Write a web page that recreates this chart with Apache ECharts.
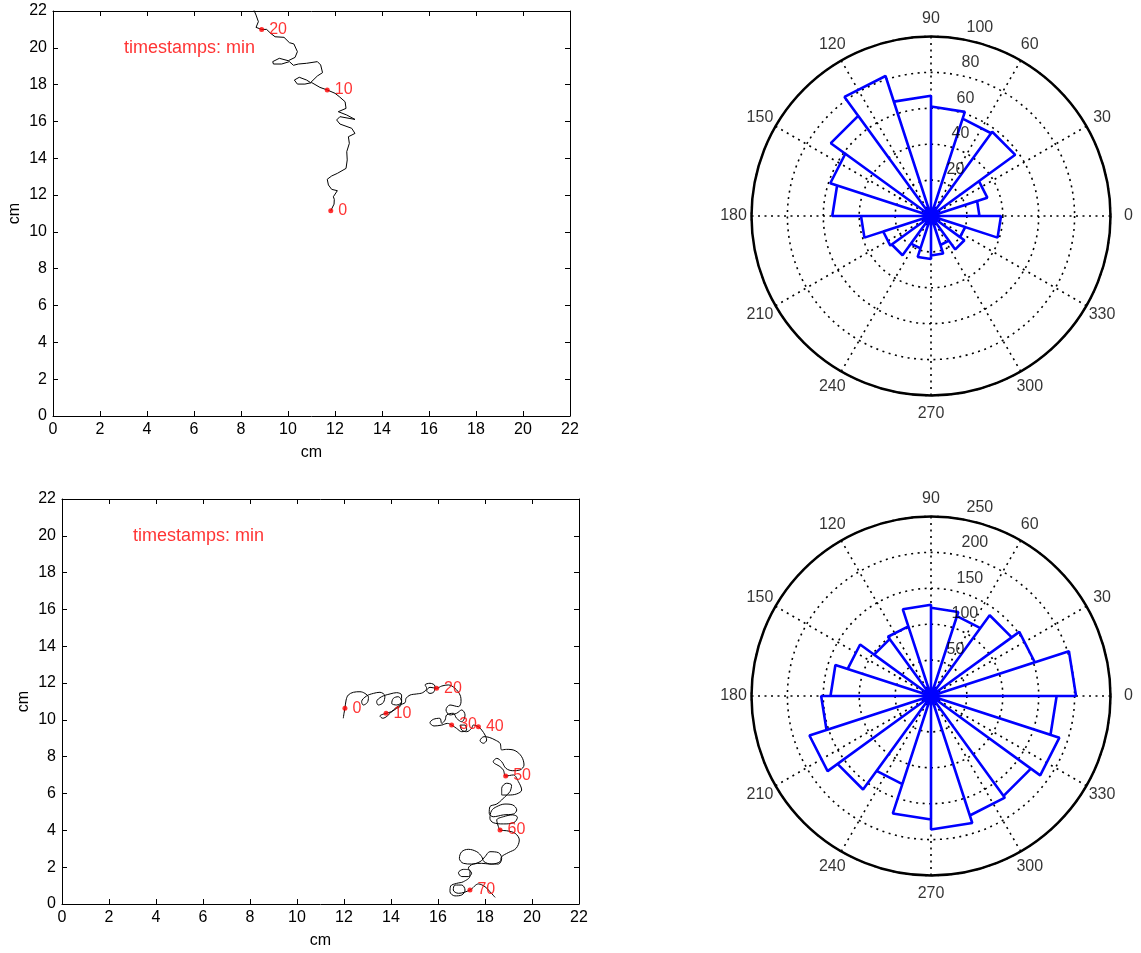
<!DOCTYPE html>
<html>
<head>
<meta charset="utf-8">
<script src="https://cdn.jsdelivr.net/npm/echarts@6/dist/echarts.min.js"></script>
<style>
  html, body { margin: 0; padding: 0; background: #fff; }
  #chart { width: 1141px; height: 953px; }
</style>
</head>
<body>
<div id="chart"></div>
<script>
// ---- data ----
const axisTicksCm = [0, 2, 4, 6, 8, 10, 12, 14, 16, 18, 20, 22];
const angleTicks = [0, 30, 60, 90, 120, 150, 180, 210, 240, 270, 300, 330];
const binWidthDeg = 18;

// trajectory 1 (cm)
const track1 = [
  [11.82,11.15],[11.96,11.51],[11.97,11.77],[11.93,11.91],[12.10,12.24],[11.86,12.31],[11.72,12.55],
  [11.67,12.86],[11.86,13.04],[12.10,13.18],[12.47,13.45],[12.52,13.91],[12.50,14.36],[12.61,14.81],
  [12.57,15.17],[12.85,15.35],[12.71,15.63],[12.21,15.86],[12.07,16.08],[12.21,16.26],[12.85,16.11],
  [12.50,16.35],[12.14,16.53],[12.47,16.71],[12.43,17.07],[12.18,17.35],[12.00,17.53],[11.67,17.71],
  [11.36,17.85],[11.01,18.11],[10.72,18.03],[10.40,18.03],[10.27,18.25],[10.48,18.40],[10.79,18.25],
  [10.96,18.11],[11.25,18.47],[11.47,18.65],[11.39,19.07],[11.25,19.25],[10.79,19.16],[10.44,19.12],
  [10.23,19.05],[10.06,19.25],[9.73,19.12],[9.38,19.12],[9.35,19.25],[9.63,19.43],[10.01,19.30],
  [10.30,19.48],[10.40,19.79],[10.25,20.21],[10.06,20.28],[9.83,20.57],[9.45,20.60],[9.26,20.79],
  [9.09,21.00],[8.88,21.00],[8.64,21.11],[8.74,21.42],[8.64,21.78],[8.55,22.05],[8.52,22.32]
];
const stamps1Min = [0, 10, 20];
const stamps1X = [11.82, 11.67, 8.88];
const stamps1Y = [11.15, 17.71, 21.00];

// trajectory 2 (cm)
const track2 = [
  [11.97,10.09],[12.00,10.36],[12.04,10.63],[12.09,11.08],[12.18,11.35],[12.40,11.50],[12.68,11.53],
  [12.89,11.44],[13.04,11.23],[12.99,10.94],[12.82,10.81],[12.75,10.99],[12.96,11.30],[13.25,11.44],
  [13.53,11.50],[13.74,11.30],[13.67,10.94],[13.46,10.81],[13.39,10.99],[13.60,11.26],[13.96,11.41],
  [14.24,11.48],[14.45,11.35],[14.45,10.99],[14.24,10.81],[14.03,10.90],[14.10,11.17],[14.31,11.26],
  [14.45,10.99],[14.38,10.72],[14.24,10.63],[14.03,10.45],[13.79,10.36],[13.53,10.21],[13.65,10.09],
  [13.84,10.21],[14.10,10.54],[14.38,10.81],[14.60,10.94],[14.64,11.17],[14.81,11.35],[15.09,11.41],
  [15.35,11.48],[15.52,11.72],[15.45,11.90],[15.66,11.99],[15.87,11.84],[15.83,11.53],[15.66,11.44],
  [15.52,11.59],[15.66,11.77],[15.94,11.72],
  [16.16,11.84],[16.44,11.90],[16.72,11.72],[16.94,11.35],[16.98,10.99],[16.87,10.72],[16.51,10.81],
  [16.34,10.54],[16.51,10.27],[16.79,10.36],[17.01,10.54],[17.15,10.27],[17.01,9.90],[16.79,10.09],
  [16.65,10.36],[16.37,10.27],[16.30,9.99],[16.16,9.81],[16.08,10.09],[15.80,10.03],[15.66,9.85],
  [15.83,9.67],[16.16,9.72],[16.40,9.81],[16.58,9.72],[16.79,9.54],[17.01,9.36],[17.22,9.45],
  [17.15,9.72],[16.94,9.72],[17.01,9.45],[17.22,9.36],[17.43,9.54],[17.50,9.72],[17.72,9.63],
  [17.86,9.45],[18.00,9.18],[18.07,8.91],[17.93,8.73],[17.79,8.87],[17.96,9.09],[18.18,9.05],
  [18.43,8.91],[18.64,8.73],[18.71,8.37],[18.92,8.40],[19.28,8.33],[19.56,8.00],[19.66,7.55],
  [19.49,7.28],[19.18,7.24],[18.89,7.37],[18.71,7.73],[18.50,7.91],[18.35,7.73],[18.64,7.46],
  [18.78,7.28],[18.88,6.95],
  [19.21,7.01],[19.42,6.65],[19.56,6.19],[19.35,5.98],[18.99,5.92],[18.71,5.92],[18.71,6.28],
  [18.92,6.56],[19.13,6.46],[19.06,6.10],[18.85,5.83],[18.71,5.65],[18.50,5.43],[18.21,5.29],
  [18.18,4.93],[18.35,4.74],[18.78,4.84],[19.21,4.89],[19.35,5.11],[19.18,5.38],[18.85,5.43],
  [18.50,5.29],[18.28,5.07],[18.21,4.65],[18.35,4.42],[18.78,4.35],[19.23,4.42],[19.38,4.71],
  [19.18,4.84],[18.78,4.74],[18.50,4.56],[18.57,4.20],[18.64,4.02],
  [18.92,3.98],[19.28,3.84],[19.46,3.48],[19.32,3.02],[18.99,2.79],[18.71,2.57],[18.64,2.30],
  [18.28,2.17],[17.96,2.30],[17.86,2.57],[17.65,2.84],[17.29,2.97],[17.01,2.84],[16.91,2.48],
  [17.08,2.21],[17.43,2.17],[17.79,2.30],[18.00,2.57],[18.21,2.84],[18.57,2.79],[18.71,2.48],
  [18.57,2.17],[18.21,2.17],[17.86,2.21],[17.50,2.17],[17.29,1.94],[17.43,1.67],[17.29,1.49],
  [17.01,1.49],[16.87,1.70],[17.08,1.88],[17.36,1.81],[17.36,1.52],[17.08,1.21],[16.79,1.12],
  [16.54,0.98],[16.51,0.67],[16.72,0.44],[17.01,0.49],[17.15,0.76],[17.01,1.03],[16.72,1.03],
  [16.65,0.76],[16.87,0.58],[17.36,0.76],[17.72,1.09],[18.00,0.94],[18.21,0.67],[18.43,0.36]
];
const stamps2Min = [0, 10, 20, 30, 40, 50, 60, 70];
const stamps2X = [12.04, 13.79, 15.94, 16.58, 17.72, 18.88, 18.64, 17.36];
const stamps2Y = [10.63, 10.36, 11.72, 9.72, 9.63, 6.95, 4.02, 0.76];

// heading histograms, 18-degree bins starting at 0
const rose1Counts = [27, 33, 58, 57, 61, 67, 82, 69, 59, 55, 39, 28, 27, 19, 24, 22, 17, 23, 20, 39];
const rose1RadTicks = [20, 40, 60, 80, 100];
const rose2Counts = [202, 152, 139, 117, 123, 127, 102, 98, 122, 140, 153, 178, 161, 129, 172, 186, 175, 172, 188, 175];
const rose2RadTicks = [50, 100, 150, 200, 250];

// ---- styling helpers ----
const FONT = 'Liberation Sans, Arial, sans-serif';
const TICK_FONT = 16;
const dotted = { color: '#000', width: 1.6, type: [2, 4.5] };

function boxAxes(gridIndex, dim) {
  const base = {
    gridIndex, type: 'value', min: 0, max: 22, interval: 2,
    axisLine: { show: true, onZero: false, lineStyle: { color: '#000', width: 1 } },
    axisTick: { show: true, inside: true, length: 5, lineStyle: { color: '#000' } },
    splitLine: { show: false }
  };
  const main = Object.assign({}, base, {
    position: dim === 'x' ? 'bottom' : 'left',
    name: 'cm', nameLocation: 'middle',
    nameGap: dim === 'x' ? 29 : 30,
    nameTextStyle: { color: '#000', fontSize: TICK_FONT, fontFamily: FONT },
    axisLabel: { color: '#000', fontSize: TICK_FONT, fontFamily: FONT, margin: 6,
                 formatter: v => axisTicksCm.includes(v) ? String(v) : '' }
  });
  const mirror = Object.assign({}, base, {
    position: dim === 'x' ? 'top' : 'right',
    axisLabel: { show: false }
  });
  return [main, mirror];
}

function roseTrace(counts) {
  const pts = [];
  counts.forEach((c, i) => {
    const a0 = i * binWidthDeg, a1 = a0 + binWidthDeg;
    pts.push([0, a0], [c, a0], [c, a1], [0, a1]);
  });
  return pts;
}

function polarAxes(polarIndex, labelIndex, maxR, radTicks) {
  const angleAxis = [
    { polarIndex, type: 'value', min: 0, max: 360, interval: 30, startAngle: 0, clockwise: false,
      axisLine: { show: true, lineStyle: { color: '#000', width: 2.5 } },
      axisTick: { show: false }, axisLabel: { show: false },
      splitLine: { show: true, lineStyle: dotted } },
    { polarIndex: labelIndex, type: 'value', min: 0, max: 360, startAngle: 0, clockwise: false,
      show: false, axisLine: { show: false }, splitLine: { show: false }, axisTick: { show: false }, axisLabel: { show: false } }
  ];
  const radiusAxis = [
    { polarIndex, type: 'value', min: 0, max: maxR, interval: radTicks[0],
      axisLine: { show: false }, axisTick: { show: false }, axisLabel: { show: false },
      splitLine: { show: true, lineStyle: dotted } },
    { polarIndex: labelIndex, type: 'value', min: 0, max: 1, show: false,
      axisLine: { show: false }, splitLine: { show: false }, axisTick: { show: false }, axisLabel: { show: false } }
  ];
  return { angleAxis, radiusAxis };
}

function roseSeries(polarIndex, labelIndex, counts, radTicks) {
  return [
    { type: 'line', coordinateSystem: 'polar', polarIndex, data: roseTrace(counts),
      showSymbol: false, symbol: 'none', clip: false,
      lineStyle: { color: '#0000ff', width: 2.6 }, z: 3 },
    { type: 'scatter', coordinateSystem: 'polar', polarIndex, symbolSize: 1,
      itemStyle: { color: 'transparent' },
      data: radTicks.map(t => [t, 82]),
      label: { show: true, position: 'right', distance: 10, offset: [0, -11],
               formatter: p => String(p.value[0]), color: '#000', fontSize: TICK_FONT, fontFamily: FONT },
      z: 4 },
    { type: 'scatter', coordinateSystem: 'polar', polarIndex: labelIndex, symbolSize: 1,
      itemStyle: { color: 'transparent' },
      data: angleTicks.map(a => [1, a]),
      label: { show: true, position: 'inside',
               formatter: p => String(p.value[1]), color: '#000', fontSize: TICK_FONT, fontFamily: FONT },
      z: 4 }
  ];
}

function trackSeries(axisIndex, track, mins, xs, ys, smooth) {
  return [
    { type: 'line', xAxisIndex: axisIndex, yAxisIndex: axisIndex, data: track,
      showSymbol: false, symbol: 'none', clip: true, smooth,
      lineStyle: { color: '#000', width: 1 }, z: 2 },
    { type: 'scatter', xAxisIndex: axisIndex, yAxisIndex: axisIndex, symbolSize: 5,
      itemStyle: { color: '#ff0000' },
      data: mins.map((m, i) => [xs[i], ys[i], m]),
      label: { show: true, position: 'right', distance: 5,
               formatter: p => String(p.value[2]), color: '#ff0000', fontSize: TICK_FONT, fontFamily: FONT },
      z: 3 },
    { type: 'scatter', xAxisIndex: axisIndex, yAxisIndex: axisIndex, symbolSize: 1,
      itemStyle: { color: 'transparent' },
      data: [[3, 20]],
      label: { show: true, position: 'right', distance: 0,
               formatter: 'timestamps: min', color: '#ff0000', fontSize: 18, fontFamily: FONT },
      z: 3 }
  ];
}

const [x0, x1] = boxAxes(0, 'x');
const [y0, y1] = boxAxes(0, 'y');
const [x2, x3] = boxAxes(1, 'x');
const [y2, y3] = boxAxes(1, 'y');

const pTop = polarAxes(0, 1, 100, rose1RadTicks);
const pBot = polarAxes(2, 3, 250, rose2RadTicks);

const option = {
  animation: false,
  backgroundColor: '#fff',
  grid: [
    { left: 53, top: 11, width: 517, height: 405 },
    { left: 62, top: 499, width: 517, height: 405 }
  ],
  xAxis: [x0, x1, x2, x3],
  yAxis: [y0, y1, y2, y3],
  polar: [
    { center: [931, 216], radius: 179.5 },
    { center: [931, 216], radius: 197.5 },
    { center: [931, 696], radius: 179.5 },
    { center: [931, 696], radius: 197.5 }
  ],
  angleAxis: [...pTop.angleAxis, ...pBot.angleAxis],
  radiusAxis: [...pTop.radiusAxis, ...pBot.radiusAxis],
  series: [
    ...trackSeries(0, track1, stamps1Min, stamps1X, stamps1Y, false),
    ...trackSeries(2, track2, stamps2Min, stamps2X, stamps2Y, 0.35),
    ...roseSeries(0, 1, rose1Counts, rose1RadTicks),
    ...roseSeries(2, 3, rose2Counts, rose2RadTicks)
  ]
};

// the mirror axes (top/right) share the grid of their partner
option.xAxis[1].gridIndex = 0; option.yAxis[1].gridIndex = 0;
option.xAxis[3].gridIndex = 1; option.yAxis[3].gridIndex = 1;

const chart = echarts.init(document.getElementById('chart'), null, { renderer: 'canvas' });
chart.setOption(option);
</script>
</body>
</html>
